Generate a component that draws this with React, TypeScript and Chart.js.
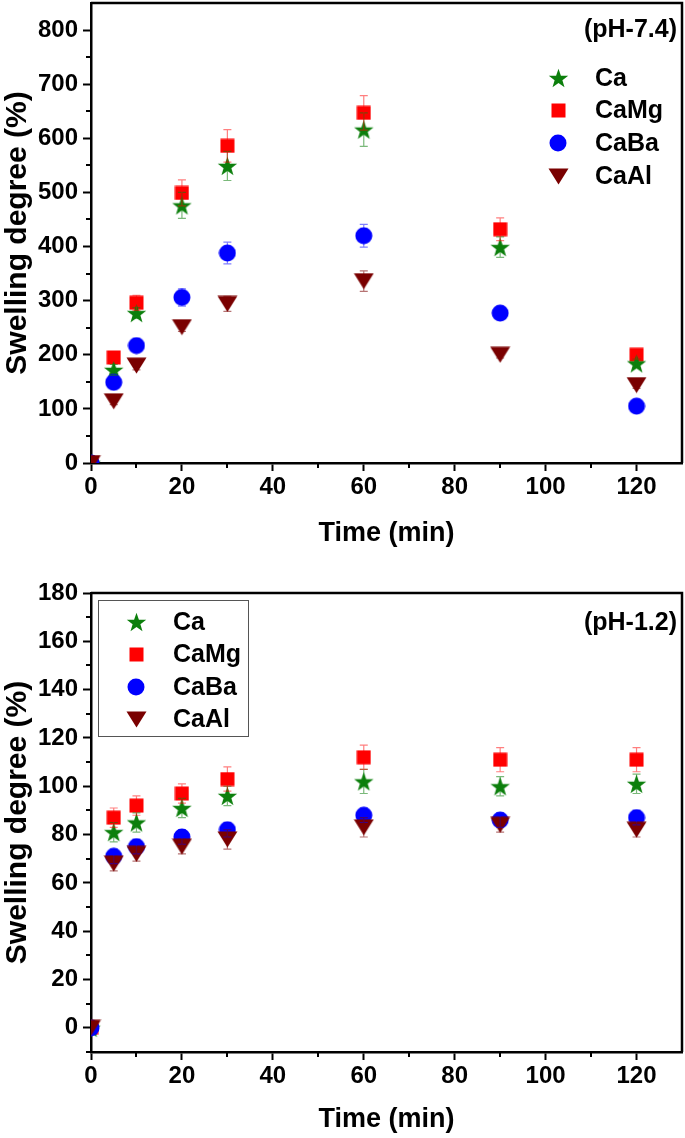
import React, { useEffect, useRef } from "react";
import { Chart, registerables } from "chart.js";

Chart.register(...registerables);

// ---------------- data ----------------
const TIME = [0, 5, 10, 20, 30, 60, 90, 120];
const SERIES_NAMES = ["Ca", "CaMg", "CaBa", "CaAl"];

// pH 7.4
const CA_74 = [0, 172, 277, 476, 549, 616, 399, 184];
const CAMG_74 = [0, 195, 296, 499, 586, 647, 432, 200];
const CABA_74 = [0, 149, 217, 306, 388, 420, 277, 105];
const CAAL_74 = [0, 114, 180, 251, 294, 336, 200, 144];
const CA_ERR_74 = [0, 10, 10, 24, 27, 31, 19, 8];
const CAMG_ERR_74 = [0, 8, 14, 24, 30, 32, 21, 8];
const CABA_ERR_74 = [0, 8, 8, 16, 20, 21, 8, 6];
const CAAL_ERR_74 = [0, 6, 8, 8, 14, 19, 6, 6];

// pH 1.2
const CA_12 = [0, 81, 85, 91, 96, 102, 100, 101];
const CAMG_12 = [0, 87, 92, 97, 103, 112, 111, 111];
const CABA_12 = [0, 71, 75, 79, 82, 88, 86, 87];
const CAAL_12 = [0, 68, 72, 75, 78, 83, 84, 82];
const CA_ERR_12 = [0, 4, 4, 4, 4, 5, 4, 4];
const CAMG_ERR_12 = [0, 4, 4, 4, 5, 5, 5, 5];
const CABA_ERR_12 = [0, 3, 3, 3, 3, 3, 3, 3];
const CAAL_ERR_12 = [0, 3, 3, 3, 4, 4, 3, 3];

const X_TICKS = [0, 20, 40, 60, 80, 100, 120];
const X_MINOR = [10, 30, 50, 70, 90, 110];
const Y_TICKS_74 = [0, 100, 200, 300, 400, 500, 600, 700, 800];
const Y_MINOR_74 = [50, 150, 250, 350, 450, 550, 650, 750];
const Y_TICKS_12 = [0, 20, 40, 60, 80, 100, 120, 140, 160, 180];
const Y_MINOR_12 = [-10, 10, 30, 50, 70, 90, 110, 130, 150, 170];

const X_TITLE = "Time (min)";
const Y_TITLE = "Swelling degree (%)";

// ---------------- styles ----------------
const FONT = '"Liberation Sans", Arial, Helvetica, sans-serif';
const COLORS = ["#0c7f0c", "#ff0000", "#0000ff", "#7a0000"];
const ERR_COLORS = ["rgba(12,127,12,0.55)", "rgba(255,0,0,0.5)", "rgba(0,0,255,0.5)", "rgba(122,0,0,0.55)"];
const KINDS = ["star", "square", "circle", "tri"];
const ORDERS = [2, 3, 1, 0];

function makeMarker(kind: string, color: string): HTMLCanvasElement {
  const c = document.createElement("canvas");
  const w = kind === "square" ? 15 : kind === "circle" ? 18 : 21;
  const h = kind === "square" ? 15 : kind === "circle" ? 18 : kind === "tri" ? 17 : 20;
  c.width = w;
  c.height = h;
  const ctx = c.getContext("2d")!;
  ctx.fillStyle = color;
  if (kind === "square") {
    ctx.fillRect(0.5, 0.5, w - 1, h - 1);
  } else if (kind === "circle") {
    ctx.beginPath();
    ctx.arc(w / 2, h / 2, w / 2 - 0.5, 0, Math.PI * 2);
    ctx.fill();
  } else if (kind === "tri") {
    ctx.beginPath();
    ctx.moveTo(0.5, 0.5);
    ctx.lineTo(w - 0.5, 0.5);
    ctx.lineTo(w / 2, h - 0.5);
    ctx.closePath();
    ctx.fill();
  } else {
    const cx = w / 2;
    const cy = h / 2 + 1;
    const ro = 10.2;
    const ri = 4.1;
    ctx.beginPath();
    for (let k = 0; k < 10; k++) {
      const r = k % 2 === 0 ? ro : ri;
      const a = -Math.PI / 2 + (k * Math.PI) / 5;
      const px = cx + r * Math.cos(a);
      const py = cy + r * Math.sin(a);
      if (k === 0) ctx.moveTo(px, py);
      else ctx.lineTo(px, py);
    }
    ctx.closePath();
    ctx.fill();
  }
  return c;
}

interface PanelOpts {
  series: number[][];
  errors: number[][];
  yMin: number;
  yMax: number;
  yTicks: number[];
  yMinor: number[];
  padTop: number;
  xAxisHeight: number;
  xTitlePadBottom: number;
  tag: string;
  tagBaseline: number;
  legend: { box: null | { x: number; y: number; w: number; h: number }; mx: number; tx: number; rows: number[] };
}

function buildConfig(o: PanelOpts, markers: HTMLCanvasElement[]): any {
  const datasets = o.series.map((vals, si) => ({
    label: SERIES_NAMES[si],
    data: TIME.map((t, i) => ({ x: t, y: vals[i] })),
    pointStyle: markers[si],
    pointRadius: 9,
    showLine: false,
    clip: 0,
    order: ORDERS[si],
    backgroundColor: COLORS[si],
    borderColor: COLORS[si],
  }));

  const errorPlugin = {
    id: "errbars",
    afterDatasetsDraw(chart: any) {
      const ctx = chart.ctx;
      const ys = chart.scales.y;
      ctx.save();
      ctx.lineWidth = 1.2;
      o.errors.forEach((errs, si) => {
        const meta = chart.getDatasetMeta(si);
        ctx.strokeStyle = ERR_COLORS[si];
        errs.forEach((e, i) => {
          if (!e) return;
          const pt = meta.data[i];
          const v = o.series[si][i];
          const x = pt.x;
          const y1 = ys.getPixelForValue(v + e);
          const y2 = ys.getPixelForValue(v - e);
          ctx.beginPath();
          ctx.moveTo(x, y1);
          ctx.lineTo(x, y2);
          ctx.moveTo(x - 4, y1);
          ctx.lineTo(x + 4, y1);
          ctx.moveTo(x - 4, y2);
          ctx.lineTo(x + 4, y2);
          ctx.stroke();
        });
      });
      ctx.restore();
    },
  };

  const decoPlugin = {
    id: "deco",
    afterDraw(chart: any) {
      const ctx = chart.ctx;
      const a = chart.chartArea;
      const xs = chart.scales.x;
      const ys = chart.scales.y;
      ctx.save();
      ctx.strokeStyle = "#000";
      ctx.lineWidth = 2.5;
      ctx.beginPath();
      ctx.moveTo(a.left, a.top);
      ctx.lineTo(a.right, a.top);
      ctx.lineTo(a.right, a.bottom);
      ctx.stroke();
      ctx.lineWidth = 2;
      ctx.beginPath();
      X_MINOR.forEach((v) => {
        const px = Math.round(xs.getPixelForValue(v));
        ctx.moveTo(px, a.bottom);
        ctx.lineTo(px, a.bottom + 5);
      });
      o.yMinor.forEach((v) => {
        const py = Math.round(ys.getPixelForValue(v));
        ctx.moveTo(a.left - 5, py);
        ctx.lineTo(a.left, py);
      });
      ctx.stroke();

      // tag
      ctx.fillStyle = "#000";
      ctx.font = "bold 25px " + FONT;
      ctx.textAlign = "right";
      ctx.textBaseline = "alphabetic";
      ctx.fillText(o.tag, 677, o.tagBaseline);

      // legend
      const L = o.legend;
      if (L.box) {
        ctx.strokeStyle = "#555";
        ctx.lineWidth = 1;
        ctx.strokeRect(L.box.x + 0.5, L.box.y + 0.5, L.box.w, L.box.h);
      }
      ctx.font = "bold 25px " + FONT;
      ctx.textAlign = "left";
      ctx.textBaseline = "middle";
      SERIES_NAMES.forEach((name, si) => {
        const m = markers[si];
        const ry = L.rows[si];
        ctx.drawImage(m, Math.round(L.mx - m.width / 2), Math.round(ry - m.height / 2));
        ctx.fillText(name, L.tx, ry + 1);
      });
      ctx.restore();
    },
  };

  const tickFont = { family: FONT, size: 24, weight: "bold" as const };

  return {
    type: "scatter",
    data: { datasets },
    options: {
      responsive: false,
      animation: false,
      devicePixelRatio: 1,
      layout: { autoPadding: false, padding: { top: o.padTop, right: 3, left: 0, bottom: 0 } },
      plugins: { legend: { display: false }, tooltip: { enabled: false } },
      scales: {
        x: {
          type: "linear",
          min: 0,
          max: 130,
          afterBuildTicks: (s: any) => {
            s.ticks = X_TICKS.map((v) => ({ value: v }));
          },
          afterFit: (s: any) => {
            s.height = o.xAxisHeight;
            s.paddingLeft = 0;
            s.paddingRight = 0;
          },
          ticks: { font: tickFont, color: "#000", padding: 2, maxRotation: 0, autoSkip: false },
          grid: { drawOnChartArea: false, drawTicks: true, tickLength: 8, tickWidth: 2, tickColor: "#000" },
          border: { display: true, color: "#000", width: 2.5 },
          title: {
            display: true,
            text: X_TITLE,
            color: "#000",
            font: { family: FONT, size: 27, weight: "bold" },
            padding: { top: 0, bottom: o.xTitlePadBottom },
          },
        },
        y: {
          type: "linear",
          min: o.yMin,
          max: o.yMax,
          afterBuildTicks: (s: any) => {
            s.ticks = o.yTicks.map((v) => ({ value: v }));
          },
          afterFit: (s: any) => {
            s.width = 91;
            s.paddingTop = 0;
            s.paddingBottom = 0;
          },
          ticks: { font: tickFont, color: "#000", padding: 5, autoSkip: false },
          grid: { drawOnChartArea: false, drawTicks: true, tickLength: 8, tickWidth: 2, tickColor: "#000" },
          border: { display: true, color: "#000", width: 2.5 },
          title: {
            display: true,
            text: Y_TITLE,
            color: "#000",
            font: { family: FONT, size: 30, weight: "bold" },
            padding: { top: 0, bottom: 0 },
          },
        },
      },
    },
    plugins: [errorPlugin, decoPlugin],
  };
}

function Panel({ opts }: { opts: PanelOpts }) {
  const ref = useRef<HTMLCanvasElement | null>(null);
  useEffect(() => {
    if (!ref.current) return;
    const markers = KINDS.map((k, i) => makeMarker(k, COLORS[i]));
    const chart = new Chart(ref.current, buildConfig(opts, markers));
    return () => chart.destroy();
  }, [opts]);
  return <canvas ref={ref} width={685} height={569} style={{ display: "block", width: 685, height: 569 }} />;
}

const TOP_OPTS: PanelOpts = {
  series: [CA_74, CAMG_74, CABA_74, CAAL_74],
  errors: [CA_ERR_74, CAMG_ERR_74, CABA_ERR_74, CAAL_ERR_74],
  yMin: 0,
  yMax: 850,
  yTicks: Y_TICKS_74,
  yMinor: Y_MINOR_74,
  padTop: 3,
  xAxisHeight: 106,
  xTitlePadBottom: 19,
  tag: "(pH-7.4)",
  tagBaseline: 37,
  legend: { box: null, mx: 558, tx: 595, rows: [78, 110, 143, 176] },
};

const BOTTOM_OPTS: PanelOpts = {
  series: [CA_12, CAMG_12, CABA_12, CAAL_12],
  errors: [CA_ERR_12, CAMG_ERR_12, CABA_ERR_12, CAAL_ERR_12],
  yMin: -10,
  yMax: 180,
  yTicks: Y_TICKS_12,
  yMinor: Y_MINOR_12,
  padTop: 24,
  xAxisHeight: 86,
  xTitlePadBottom: 2,
  tag: "(pH-1.2)",
  tagBaseline: 630 - 569,
  legend: { box: { x: 98, y: 600 - 569, w: 150, h: 136 }, mx: 136, tx: 173, rows: [622 - 569, 654 - 569, 687 - 569, 719 - 569] },
};

export default function App() {
  return (
    <div style={{ position: "absolute", left: 0, top: 0, width: 685, height: 1138, background: "#fff" }}>
      <Panel opts={TOP_OPTS} />
      <Panel opts={BOTTOM_OPTS} />
    </div>
  );
}
